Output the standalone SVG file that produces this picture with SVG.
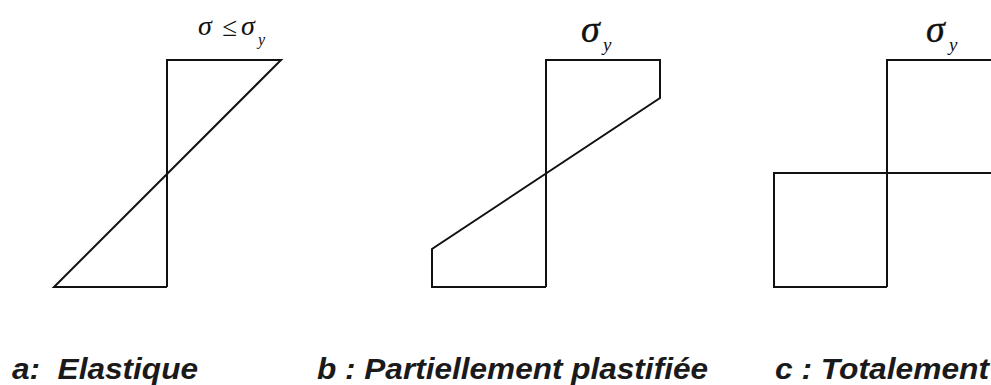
<svg xmlns="http://www.w3.org/2000/svg" width="991" height="385" viewBox="0 0 991 385">
<style>
.ln{fill:none;stroke:#111;stroke-width:2;stroke-linejoin:miter}
.sg{font-family:"Liberation Serif","Times New Roman",serif;font-style:italic;fill:#111}
.lb{font-family:"Liberation Sans",Arial,sans-serif;font-weight:bold;font-style:italic;font-size:29px;fill:#1a1a1a}
</style>
<rect width="991" height="385" fill="#fff"/>
<g id="diagram-a">
<path class="ln" d="M167,287 V60 H281 L54,287 H167"/>
<text class="sg" x="198" y="35" font-size="28">σ</text>
<text class="sg" x="222" y="36" font-size="27" font-style="normal">≤</text>
<text class="sg" x="241" y="35" font-size="28">σ</text>
<text class="sg" x="258" y="45" font-size="16">y</text>
</g>
<g id="diagram-b">
<path class="ln" d="M546,287 V60 H660 V98 L432,249 V287 H546"/>
<text class="sg" x="581" y="42" font-size="38" stroke="#111" stroke-width="0.4">σ</text>
<text class="sg" x="603" y="51" font-size="19">y</text>
</g>
<g id="diagram-c">
<path class="ln" d="M887,287 V60 H992 M992,173 H774 V287 H887"/>
<text class="sg" x="926" y="42" font-size="38" stroke="#111" stroke-width="0.4">σ</text>
<text class="sg" x="949" y="51" font-size="19">y</text>
</g>
<g id="labels">
<text class="lb" x="12" y="379" xml:space="preserve" textLength="186" lengthAdjust="spacingAndGlyphs">a:  Elastique</text>
<text class="lb" x="317" y="379" textLength="391" lengthAdjust="spacingAndGlyphs">b : Partiellement plastifiée</text>
<text class="lb" x="775" y="379" textLength="214" lengthAdjust="spacingAndGlyphs">c : Totalement</text>
</g>
</svg>
